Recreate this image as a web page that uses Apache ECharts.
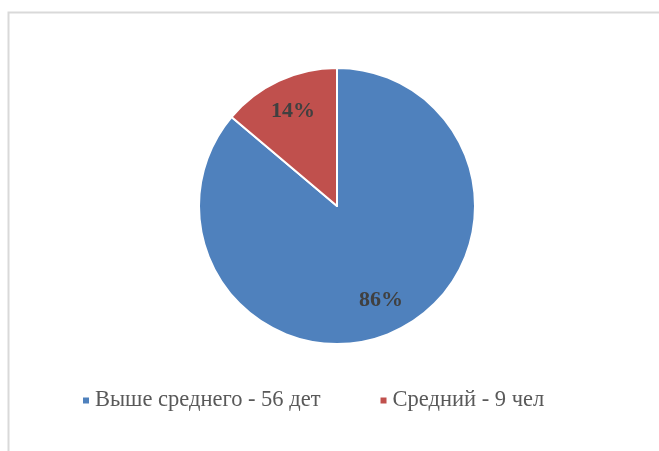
<!DOCTYPE html>
<html><head><meta charset="utf-8">
<script src="https://cdn.jsdelivr.net/npm/echarts@6/dist/echarts.min.js"></script>
<style>html,body{margin:0;padding:0;background:#fff}#c{width:659px;height:451px}</style>
</head><body><div id="c"></div>
<script>
const categories = ['Выше среднего - 56 дет', 'Средний - 9 чел'];
const values = [56, 9];
const colors = ['#4f81bd', '#c0504d'];
const cx = 337, cy = 206;
const SERIF = 'Liberation Serif';
const chart = echarts.init(document.getElementById('c'));
chart.setOption({
  animation: false,
  textStyle: {fontFamily: SERIF},
  graphic: [{
    type: 'polyline',
    shape: {points: [[8.5, 451], [8.5, 12.5], [659, 12.5]]},
    style: {stroke: '#d9d9d9', lineWidth: 2, fill: null}
  }],
  legend: {
    top: 384, left: 76,
    icon: 'rect', itemWidth: 8, itemHeight: 8, itemGap: 58,
    textStyle: {fontFamily: SERIF, fontSize: 22.5, color: '#595959'},
    data: categories
  },
  series: [{
    type: 'pie',
    center: [cx, cy],
    radius: [0, 138],
    startAngle: 90,
    clockwise: true,
    color: colors,
    itemStyle: {borderColor: '#fff', borderWidth: 2},
    label: {
      position: 'inside',
      formatter: p => Math.round(p.percent) + '%',
      fontFamily: SERIF, fontWeight: 'bold', fontSize: 22, color: '#404040'
    },
    labelLayout: function (p) {
      const lx = p.labelRect.x + p.labelRect.width / 2;
      const ly = p.labelRect.y + p.labelRect.height / 2;
      return {dx: (lx - cx) * 0.45, dy: (ly - cy) * 0.45};
    },
    data: categories.map((n, i) => ({name: n, value: values[i]}))
  }]
});
</script></body></html>
